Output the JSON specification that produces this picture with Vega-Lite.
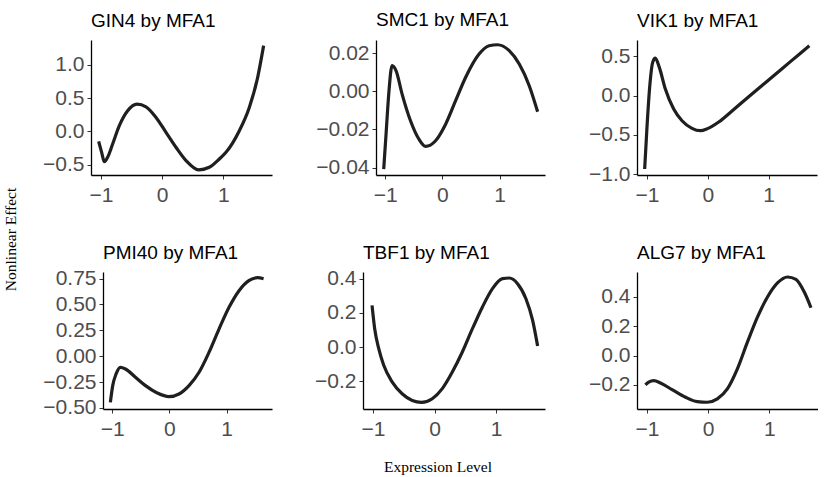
{
  "$schema": "https://vega.github.io/schema/vega-lite/v6.json",
  "background": "white",
  "padding": {"left": 3, "top": 11, "right": 0, "bottom": 0},
  "data": {
    "values": [
      {"gene": "GIN4", "x": -1.038, "y": -0.15},
      {"gene": "GIN4", "x": -0.989, "y": -0.316},
      {"gene": "GIN4", "x": -0.945, "y": -0.457},
      {"gene": "GIN4", "x": -0.891, "y": -0.39},
      {"gene": "GIN4", "x": -0.809, "y": -0.19},
      {"gene": "GIN4", "x": -0.7, "y": 0.085},
      {"gene": "GIN4", "x": -0.564, "y": 0.31},
      {"gene": "GIN4", "x": -0.411, "y": 0.41},
      {"gene": "GIN4", "x": -0.264, "y": 0.37},
      {"gene": "GIN4", "x": -0.1, "y": 0.21},
      {"gene": "GIN4", "x": 0.063, "y": -0.015},
      {"gene": "GIN4", "x": 0.226, "y": -0.24},
      {"gene": "GIN4", "x": 0.39, "y": -0.44},
      {"gene": "GIN4", "x": 0.597, "y": -0.58},
      {"gene": "GIN4", "x": 0.771, "y": -0.54},
      {"gene": "GIN4", "x": 0.935, "y": -0.416},
      {"gene": "GIN4", "x": 1.044, "y": -0.316},
      {"gene": "GIN4", "x": 1.262, "y": 0.01},
      {"gene": "GIN4", "x": 1.425, "y": 0.36},
      {"gene": "GIN4", "x": 1.561, "y": 0.81},
      {"gene": "GIN4", "x": 1.659, "y": 1.29},

      {"gene": "SMC1", "x": -1.028, "y": -0.0408},
      {"gene": "SMC1", "x": -0.987, "y": -0.0224},
      {"gene": "SMC1", "x": -0.94, "y": -0.0014},
      {"gene": "SMC1", "x": -0.882, "y": 0.0135},
      {"gene": "SMC1", "x": -0.811, "y": 0.0108},
      {"gene": "SMC1", "x": -0.706, "y": -0.0014},
      {"gene": "SMC1", "x": -0.559, "y": -0.0154},
      {"gene": "SMC1", "x": -0.413, "y": -0.025},
      {"gene": "SMC1", "x": -0.296, "y": -0.0289},
      {"gene": "SMC1", "x": -0.12, "y": -0.0259},
      {"gene": "SMC1", "x": 0.056, "y": -0.0172},
      {"gene": "SMC1", "x": 0.231, "y": -0.0049},
      {"gene": "SMC1", "x": 0.407, "y": 0.0074},
      {"gene": "SMC1", "x": 0.642, "y": 0.0196},
      {"gene": "SMC1", "x": 0.817, "y": 0.024},
      {"gene": "SMC1", "x": 0.964, "y": 0.0245},
      {"gene": "SMC1", "x": 1.169, "y": 0.0214},
      {"gene": "SMC1", "x": 1.345, "y": 0.0144},
      {"gene": "SMC1", "x": 1.52, "y": 0.003},
      {"gene": "SMC1", "x": 1.667, "y": -0.0107},

      {"gene": "VIK1", "x": -1.037, "y": -0.935},
      {"gene": "VIK1", "x": -0.999, "y": -0.404},
      {"gene": "VIK1", "x": -0.955, "y": 0.106},
      {"gene": "VIK1", "x": -0.905, "y": 0.425},
      {"gene": "VIK1", "x": -0.862, "y": 0.48},
      {"gene": "VIK1", "x": -0.796, "y": 0.361},
      {"gene": "VIK1", "x": -0.697, "y": 0.085},
      {"gene": "VIK1", "x": -0.56, "y": -0.17},
      {"gene": "VIK1", "x": -0.423, "y": -0.319},
      {"gene": "VIK1", "x": -0.259, "y": -0.416},
      {"gene": "VIK1", "x": -0.122, "y": -0.446},
      {"gene": "VIK1", "x": -0.005, "y": -0.42},
      {"gene": "VIK1", "x": 0.18, "y": -0.336},
      {"gene": "VIK1", "x": 0.399, "y": -0.195},
      {"gene": "VIK1", "x": 0.673, "y": -0.013},
      {"gene": "VIK1", "x": 0.947, "y": 0.166},
      {"gene": "VIK1", "x": 1.221, "y": 0.344},
      {"gene": "VIK1", "x": 1.495, "y": 0.523},
      {"gene": "VIK1", "x": 1.67, "y": 0.637},

      {"gene": "PMI40", "x": -1.034, "y": -0.446},
      {"gene": "PMI40", "x": -0.993, "y": -0.284},
      {"gene": "PMI40", "x": -0.934, "y": -0.171},
      {"gene": "PMI40", "x": -0.858, "y": -0.107},
      {"gene": "PMI40", "x": -0.77, "y": -0.123},
      {"gene": "PMI40", "x": -0.595, "y": -0.203},
      {"gene": "PMI40", "x": -0.419, "y": -0.284},
      {"gene": "PMI40", "x": -0.214, "y": -0.355},
      {"gene": "PMI40", "x": -0.009, "y": -0.391},
      {"gene": "PMI40", "x": 0.167, "y": -0.365},
      {"gene": "PMI40", "x": 0.343, "y": -0.284},
      {"gene": "PMI40", "x": 0.519, "y": -0.155},
      {"gene": "PMI40", "x": 0.694, "y": 0.039},
      {"gene": "PMI40", "x": 0.87, "y": 0.265},
      {"gene": "PMI40", "x": 1.046, "y": 0.475},
      {"gene": "PMI40", "x": 1.222, "y": 0.636},
      {"gene": "PMI40", "x": 1.397, "y": 0.733},
      {"gene": "PMI40", "x": 1.544, "y": 0.759},
      {"gene": "PMI40", "x": 1.649, "y": 0.749},

      {"gene": "TBF1", "x": -1.016, "y": 0.243},
      {"gene": "TBF1", "x": -0.973, "y": 0.107},
      {"gene": "TBF1", "x": -0.907, "y": -0.01},
      {"gene": "TBF1", "x": -0.826, "y": -0.107},
      {"gene": "TBF1", "x": -0.69, "y": -0.204},
      {"gene": "TBF1", "x": -0.527, "y": -0.273},
      {"gene": "TBF1", "x": -0.363, "y": -0.312},
      {"gene": "TBF1", "x": -0.211, "y": -0.323},
      {"gene": "TBF1", "x": -0.037, "y": -0.302},
      {"gene": "TBF1", "x": 0.126, "y": -0.243},
      {"gene": "TBF1", "x": 0.289, "y": -0.146},
      {"gene": "TBF1", "x": 0.452, "y": -0.029},
      {"gene": "TBF1", "x": 0.616, "y": 0.107},
      {"gene": "TBF1", "x": 0.779, "y": 0.234},
      {"gene": "TBF1", "x": 0.942, "y": 0.341},
      {"gene": "TBF1", "x": 1.105, "y": 0.399},
      {"gene": "TBF1", "x": 1.214, "y": 0.403},
      {"gene": "TBF1", "x": 1.35, "y": 0.37},
      {"gene": "TBF1", "x": 1.486, "y": 0.282},
      {"gene": "TBF1", "x": 1.595, "y": 0.156},
      {"gene": "TBF1", "x": 1.676, "y": 0.006},

      {"gene": "ALG7", "x": -1.026, "y": -0.2},
      {"gene": "ALG7", "x": -0.972, "y": -0.182},
      {"gene": "ALG7", "x": -0.89, "y": -0.171},
      {"gene": "ALG7", "x": -0.78, "y": -0.187},
      {"gene": "ALG7", "x": -0.589, "y": -0.233},
      {"gene": "ALG7", "x": -0.37, "y": -0.285},
      {"gene": "ALG7", "x": -0.178, "y": -0.315},
      {"gene": "ALG7", "x": -0.014, "y": -0.319},
      {"gene": "ALG7", "x": 0.15, "y": -0.296},
      {"gene": "ALG7", "x": 0.314, "y": -0.228},
      {"gene": "ALG7", "x": 0.478, "y": -0.091},
      {"gene": "ALG7", "x": 0.642, "y": 0.091},
      {"gene": "ALG7", "x": 0.806, "y": 0.262},
      {"gene": "ALG7", "x": 0.97, "y": 0.399},
      {"gene": "ALG7", "x": 1.134, "y": 0.495},
      {"gene": "ALG7", "x": 1.299, "y": 0.536},
      {"gene": "ALG7", "x": 1.435, "y": 0.52},
      {"gene": "ALG7", "x": 1.572, "y": 0.433},
      {"gene": "ALG7", "x": 1.681, "y": 0.326}
    ]
  },
  "title": {
    "text": "Nonlinear Effect",
    "orient": "left",
    "anchor": "middle",
    "frame": "bounds",
    "font": "Liberation Serif",
    "fontSize": 15.5,
    "fontWeight": "normal",
    "color": "black",
    "baseline": "alphabetic",
    "offset": 7,
    "dx": 4
  },
  "vconcat": [
    {
      "title": {
        "text": "Expression Level",
        "orient": "bottom",
        "anchor": "middle",
        "frame": "bounds",
        "font": "Liberation Serif",
        "fontSize": 15.5,
        "fontWeight": "normal",
        "color": "black",
        "baseline": "alphabetic",
        "offset": 33,
        "dx": 10
      },
      "spacing": 38,
      "vconcat": [
        {
          "spacing": 39,
          "hconcat": [
            {
              "width": 181, "height": 135,
              "title": {"text": "GIN4 by MFA1"},
              "transform": [{"filter": "datum.gene === 'GIN4'"}],
              "mark": {"type": "line", "interpolate": "monotone", "color": "#1f1f1f", "strokeWidth": 3.2},
              "encoding": {
                "x": {"field": "x", "type": "quantitative", "title": null, "scale": {"domain": [-1.163, 1.796], "nice": false, "zero": false}, "axis": {"values": [-1, 0, 1], "format": "d"}},
                "y": {"field": "y", "type": "quantitative", "title": null, "scale": {"domain": [-0.657, 1.375], "nice": false, "zero": false}, "axis": {"values": [-0.5, 0, 0.5, 1], "format": ".1f", "minExtent": 53, "maxExtent": 53}}
              }
            },
            {
              "width": 169, "height": 135,
              "title": {"text": "SMC1 by MFA1"},
              "transform": [{"filter": "datum.gene === 'SMC1'"}],
              "mark": {"type": "line", "interpolate": "monotone", "color": "#1f1f1f", "strokeWidth": 3.2},
              "encoding": {
                "x": {"field": "x", "type": "quantitative", "title": null, "scale": {"domain": [-1.163, 1.796], "nice": false, "zero": false}, "axis": {"values": [-1, 0, 1], "format": "d"}},
                "y": {"field": "y", "type": "quantitative", "title": null, "scale": {"domain": [-0.0439, 0.027], "nice": false, "zero": false}, "axis": {"values": [-0.04, -0.02, 0, 0.02], "format": ".2f", "minExtent": 65, "maxExtent": 65}}
              }
            },
            {
              "width": 180, "height": 135,
              "title": {"text": "VIK1 by MFA1"},
              "transform": [{"filter": "datum.gene === 'VIK1'"}],
              "mark": {"type": "line", "interpolate": "monotone", "color": "#1f1f1f", "strokeWidth": 3.2},
              "encoding": {
                "x": {"field": "x", "type": "quantitative", "title": null, "scale": {"domain": [-1.163, 1.796], "nice": false, "zero": false}, "axis": {"values": [-1, 0, 1], "format": "d"}},
                "y": {"field": "y", "type": "quantitative", "title": null, "scale": {"domain": [-1.011, 0.71], "nice": false, "zero": false}, "axis": {"values": [-1, -0.5, 0, 0.5], "format": ".1f", "minExtent": 53, "maxExtent": 53}}
              }
            }
          ]
        },
        {
          "spacing": 39,
          "hconcat": [
            {
              "width": 181, "height": 137,
              "title": {"text": "PMI40 by MFA1", "offset": 4.5, "dx": 12},
              "transform": [{"filter": "datum.gene === 'PMI40'"}],
              "mark": {"type": "line", "interpolate": "monotone", "color": "#1f1f1f", "strokeWidth": 3.2},
              "encoding": {
                "x": {"field": "x", "type": "quantitative", "title": null, "scale": {"domain": [-1.163, 1.796], "range": [12, 181], "nice": false, "zero": false}, "axis": {"values": [-1, 0, 1], "format": "d"}},
                "y": {"field": "y", "type": "quantitative", "title": null, "scale": {"domain": [-0.51, 0.814], "nice": false, "zero": false}, "axis": {"values": [-0.5, -0.25, 0, 0.25, 0.5, 0.75], "format": ".2f", "offset": -12}}
              }
            },
            {
              "width": 182, "height": 137,
              "title": {"text": "TBF1 by MFA1", "offset": 4.5},
              "transform": [{"filter": "datum.gene === 'TBF1'"}],
              "mark": {"type": "line", "interpolate": "monotone", "color": "#1f1f1f", "strokeWidth": 3.2},
              "encoding": {
                "x": {"field": "x", "type": "quantitative", "title": null, "scale": {"domain": [-1.163, 1.796], "nice": false, "zero": false}, "axis": {"values": [-1, 0, 1], "format": "d"}},
                "y": {"field": "y", "type": "quantitative", "title": null, "scale": {"domain": [-0.362, 0.438], "nice": false, "zero": false}, "axis": {"values": [-0.2, 0, 0.2, 0.4], "format": ".1f", "minExtent": 52, "maxExtent": 52}}
              }
            },
            {
              "width": 181, "height": 137,
              "title": {"text": "ALG7 by MFA1"},
              "transform": [{"filter": "datum.gene === 'ALG7'"}],
              "mark": {"type": "line", "interpolate": "monotone", "color": "#1f1f1f", "strokeWidth": 3.2},
              "encoding": {
                "x": {"field": "x", "type": "quantitative", "title": null, "scale": {"domain": [-1.163, 1.796], "nice": false, "zero": false}, "axis": {"values": [-1, 0, 1], "format": "d"}},
                "y": {"field": "y", "type": "quantitative", "title": null, "scale": {"domain": [-0.365, 0.57], "nice": false, "zero": false}, "axis": {"values": [-0.2, 0, 0.2, 0.4], "format": ".1f", "minExtent": 53, "maxExtent": 53}}
              }
            }
          ]
        }
      ]
    }
  ],
  "config": {
    "view": {"stroke": null},
    "title": {
      "font": "Liberation Sans",
      "fontSize": 19,
      "fontWeight": "normal",
      "color": "black",
      "anchor": "start",
      "frame": "group",
      "baseline": "alphabetic",
      "offset": 8
    },
    "axis": {
      "grid": false,
      "domainColor": "black",
      "domainWidth": 1.3,
      "tickColor": "#333333",
      "tickSize": 4,
      "tickWidth": 1,
      "labelColor": "#4d4d4d",
      "labelFont": "Liberation Sans",
      "labelFontSize": 21,
      "labelPadding": 3
    },
    "axisX": {"labelPadding": 5, "minExtent": 26, "maxExtent": 26},
    "axisY": {"labelBaseline": "middle"}
  }
}
